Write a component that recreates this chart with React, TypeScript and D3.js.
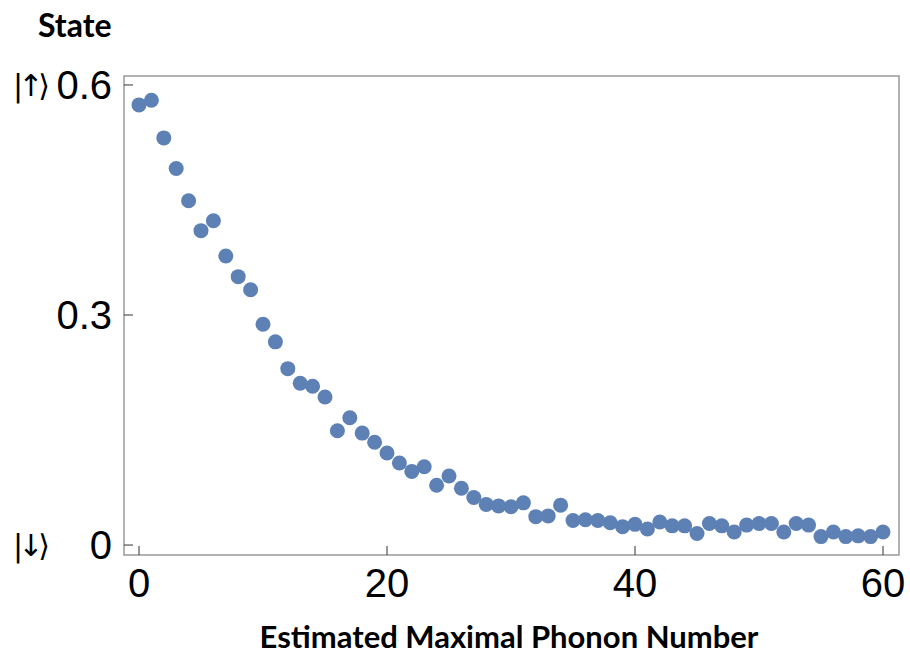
import * as d3 from 'd3';

// estimated maximal phonon number (0..60) and measured state population
const phonon = d3.range(0, 61);
const population = [
  0.574, 0.58, 0.531, 0.491, 0.449, 0.41, 0.423, 0.377, 0.35, 0.333,
  0.288, 0.265, 0.23, 0.211, 0.207, 0.193, 0.149, 0.166, 0.146, 0.134,
  0.12, 0.107, 0.096, 0.102, 0.078, 0.09, 0.074, 0.062, 0.053, 0.051,
  0.05, 0.055, 0.037, 0.038, 0.052, 0.032, 0.033, 0.032, 0.029, 0.024,
  0.027, 0.021, 0.03, 0.025, 0.025, 0.015, 0.028, 0.025, 0.017, 0.026,
  0.028, 0.028, 0.017, 0.028, 0.026, 0.011, 0.017, 0.011, 0.012, 0.011,
  0.017,
];
const xTicks = [0, 20, 40, 60];
const yTicks = [0, 0.3, 0.6];
const yTickLabels = ['0', '0.3', '0.6'];
const stateLabels = [
  { value: 0.6, label: '|↑⟩' },
  { value: 0, label: '|↓⟩' },
];

const width = 910;
const height = 656;
const frame = { left: 124, right: 899, top: 76, bottom: 555 };

export default function App() {
  const x = d3.scaleLinear().domain([-1.21, 61.29]).range([frame.left, frame.right]);
  const y = d3.scaleLinear().domain([-0.013, 0.6117]).range([frame.bottom, frame.top]);

  const numFont = '"Liberation Sans", Arial, sans-serif';
  const boldFont = 'Lato, "Open Sans", sans-serif';
  const ketFont = '"DejaVu Sans", sans-serif';

  return (
    <div style={{ position: 'absolute', left: 0, top: 0 }}>
      <svg width={width} height={height} style={{ display: 'block', background: '#fff' }}>
        {/* frame */}
        <rect
          x={frame.left}
          y={frame.top}
          width={frame.right - frame.left}
          height={frame.bottom - frame.top}
          fill="none"
          stroke="#999"
          strokeWidth={1.5}
        />

        {/* y ticks */}
        {yTicks.map((t, i) => (
          <g key={'y' + t}>
            <line x1={frame.left} x2={frame.left + 9} y1={y(t)} y2={y(t)} stroke="#333" strokeWidth={1} />
            <text
              x={112}
              y={y(t)}
              dy="0.36em"
              textAnchor="end"
              fontFamily={numFont}
              fontSize={40}
              fill="#000"
            >
              {yTickLabels[i]}
            </text>
          </g>
        ))}

        {/* x ticks */}
        {xTicks.map((t) => (
          <g key={'x' + t}>
            <line x1={x(t)} x2={x(t)} y1={frame.bottom} y2={frame.bottom - 9} stroke="#333" strokeWidth={1} />
            <text
              x={x(t)}
              y={597}
              textAnchor="middle"
              fontFamily={numFont}
              fontSize={40}
              fill="#000"
            >
              {t}
            </text>
          </g>
        ))}

        {/* points */}
        <g>
          {population.map((v, i) => (
            <circle key={i} cx={x(phonon[i])} cy={y(v)} r={7.5} fill="#5e81b5" />
          ))}
        </g>

        {/* state labels */}
        {stateLabels.map((s) => (
          <text
            key={s.label}
            x={13}
            y={y(s.value)}
            dy="0.36em"
            fontFamily={ketFont}
            fontSize={30}
            textLength={37}
            lengthAdjust="spacing"
            fill="#000"
          >
            {s.label}
          </text>
        ))}

        {/* axis titles */}
        <text x={38} y={37} fontFamily={boldFont} fontWeight="bold" fontSize={32} fill="#000">
          State
        </text>
        <text
          x={509}
          y={648}
          textAnchor="middle"
          fontFamily={boldFont}
          fontWeight="bold"
          fontSize={31}
          fill="#000"
        >
          Estimated Maximal Phonon Number
        </text>
      </svg>
    </div>
  );
}
